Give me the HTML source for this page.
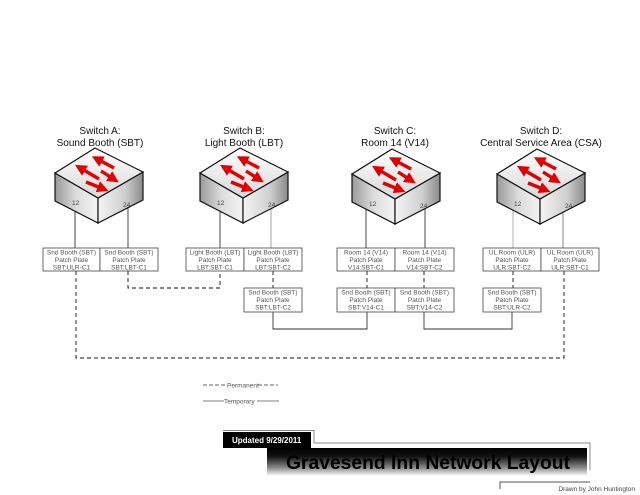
<!DOCTYPE html>
<html><head><meta charset="utf-8"><style>
html,body{margin:0;padding:0;background:#fff;}
svg{display:block;font-family:"Liberation Sans",Arial,sans-serif;}
.bx{fill:#fff;stroke:#444;stroke-width:0.8}
.t{font-size:6.5px;fill:#555;text-anchor:middle}
.h{font-size:10px;fill:#111;text-anchor:middle}
.s{stroke:#333;stroke-width:0.9;fill:none}
.d{stroke:#111;stroke-width:0.9;fill:none;stroke-dasharray:4 3}
.p{font-size:6.5px;fill:#555}
</style></head><body>
<svg width="640" height="495" viewBox="0 0 640 495">
<defs>
<linearGradient id="lf" x1="0" y1="0" x2="1" y2="0"><stop offset="0" stop-color="#9a9a9a"/><stop offset="0.5" stop-color="#dcdcdc"/><stop offset="1" stop-color="#f4f4f4"/></linearGradient>
<linearGradient id="rf" x1="0" y1="0" x2="1" y2="0"><stop offset="0" stop-color="#f4f4f4"/><stop offset="0.6" stop-color="#cfcfcf"/><stop offset="1" stop-color="#8a8a8a"/></linearGradient>
<linearGradient id="tp" x1="0" y1="0" x2="0" y2="1"><stop offset="0" stop-color="#ffffff"/><stop offset="1" stop-color="#d8d8d8"/></linearGradient>
<linearGradient id="bar" x1="0" y1="0" x2="0" y2="1"><stop offset="0" stop-color="#000"/><stop offset="0.3" stop-color="#111"/><stop offset="0.7" stop-color="#888"/><stop offset="1" stop-color="#fff"/></linearGradient>
<marker id="ah" viewBox="0 0 10 10" refX="3" refY="5" markerWidth="3.4" markerHeight="3.4" orient="auto"><path d="M0,0 L10,5 L0,10 z" fill="#e00000"/></marker>
<g id="cube">
<polygon points="0,26 43,51 43,76 0,54" fill="url(#lf)" stroke="#111" stroke-width="1.2"/>
<polygon points="43,51 88,25 88,53 43,76" fill="url(#rf)" stroke="#111" stroke-width="1.2"/>
<polygon points="40,1 0,26 43,51 88,25" fill="url(#tp)" stroke="#111" stroke-width="1.2"/>
<g stroke="#e00000" stroke-width="3.4" fill="none" marker-end="url(#ah)">
<line x1="59" y1="21" x2="44" y2="13"/>
<line x1="44" y1="32" x2="27" y2="22"/>
<line x1="46" y1="24" x2="57" y2="31"/>
<line x1="31" y1="35" x2="46" y2="41"/>
</g>
<text x="17" y="58" font-size="6.5" fill="#444">12</text>
<text x="68" y="60" font-size="6.5" fill="#444">24</text>
</g>
</defs>

<text class="h" x="100" y="134">Switch A:</text><text class="h" x="100" y="146">Sound Booth (SBT)</text>
<text class="h" x="244" y="134">Switch B:</text><text class="h" x="244" y="146">Light Booth (LBT)</text>
<text class="h" x="395" y="134">Switch C:</text><text class="h" x="395" y="146">Room 14 (V14)</text>
<text class="h" x="541" y="134">Switch D:</text><text class="h" x="541" y="146">Central Service Area (CSA)</text>

<g class="s">
<line x1="75" y1="200" x2="75" y2="248"/><line x1="128" y1="207" x2="128" y2="248"/>
<line x1="220" y1="200" x2="220" y2="248"/><line x1="271" y1="207" x2="271" y2="248" stroke="#999"/>
<line x1="366" y1="200" x2="366" y2="248"/><line x1="425" y1="207" x2="425" y2="248"/>
<line x1="513" y1="200" x2="513" y2="248" stroke="#aaa"/><line x1="563" y1="207" x2="563" y2="248" stroke="#777"/>
</g>

<use href="#cube" x="55" y="147"/>
<use href="#cube" x="200" y="147"/>
<use href="#cube" x="352" y="148"/>
<use href="#cube" x="497" y="148"/>

<path class="d" d="M76,271 V358 H564 V271"/>
<path class="d" d="M128,271 V288 H220 V271"/>
<path class="d" d="M273,271 V288"/>
<path class="d" d="M367,271 V288"/>
<path class="d" d="M424,271 V288"/>
<path class="d" d="M513,271 V288"/>
<path class="s" d="M273,312 V329 H367 V312"/>
<path class="s" d="M424,312 V329 H512 V312"/>

<g>
<rect class="bx" x="43" y="248" width="57" height="23"/><rect class="bx" x="100" y="248" width="58" height="23"/>
<rect class="bx" x="186" y="248" width="58" height="23"/><rect class="bx" x="244" y="248" width="58" height="23"/>
<rect class="bx" x="337" y="248" width="58" height="23"/><rect class="bx" x="395" y="248" width="59" height="23"/>
<rect class="bx" x="483" y="248" width="58" height="23"/><rect class="bx" x="541" y="248" width="58" height="23"/>
<rect class="bx" x="244" y="288" width="58" height="24"/>
<rect class="bx" x="337" y="288" width="58" height="24"/><rect class="bx" x="395" y="288" width="59" height="24"/>
<rect class="bx" x="483" y="288" width="58" height="24"/>
</g>
<g class="t">
<text x="71.5" y="254.5">Snd Booth (SBT)</text><text x="71.5" y="262">Patch Plate</text><text x="71.5" y="269.5">SBT:ULR-C1</text>
<text x="129" y="254.5">Snd Booth (SBT)</text><text x="129" y="262">Patch Plate</text><text x="129" y="269.5">SBT:LBT-C1</text>
<text x="215" y="254.5">Light Booth (LBT)</text><text x="215" y="262">Patch Plate</text><text x="215" y="269.5">LBT:SBT-C1</text>
<text x="273" y="254.5">Light Booth (LBT)</text><text x="273" y="262">Patch Plate</text><text x="273" y="269.5">LBT:SBT-C2</text>
<text x="366" y="254.5">Room 14 (V14)</text><text x="366" y="262">Patch Plate</text><text x="366" y="269.5">V14:SBT-C1</text>
<text x="424.5" y="254.5">Room 14 (V14)</text><text x="424.5" y="262">Patch Plate</text><text x="424.5" y="269.5">V14:SBT-C2</text>
<text x="512" y="254.5">UL Room (ULR)</text><text x="512" y="262">Patch Plate</text><text x="512" y="269.5">ULR:SBT-C2</text>
<text x="570" y="254.5">UL Room (ULR)</text><text x="570" y="262">Patch Plate</text><text x="570" y="269.5">ULR:SBT-C1</text>
<text x="273" y="294.5">Snd Booth (SBT)</text><text x="273" y="302">Patch Plate</text><text x="273" y="309.5">SBT:LBT-C2</text>
<text x="366" y="294.5">Snd Booth (SBT)</text><text x="366" y="302">Patch Plate</text><text x="366" y="309.5">SBT:V14-C1</text>
<text x="424.5" y="294.5">Snd Booth (SBT)</text><text x="424.5" y="302">Patch Plate</text><text x="424.5" y="309.5">SBT:V14-C2</text>
<text x="512" y="294.5">Snd Booth (SBT)</text><text x="512" y="302">Patch Plate</text><text x="512" y="309.5">SBT:ULR-C2</text>
</g>

<line x1="203" y1="385" x2="226" y2="385" stroke="#333" stroke-width="0.8" stroke-dasharray="4 2"/>
<text class="p" x="227" y="387.5">Permanent</text>
<line x1="258" y1="385" x2="278" y2="385" stroke="#333" stroke-width="0.8" stroke-dasharray="4 2"/>
<line x1="203" y1="401" x2="224" y2="401" stroke="#555" stroke-width="0.8"/>
<text class="p" x="224" y="403.5">Temporary</text>
<line x1="257" y1="401" x2="279" y2="401" stroke="#555" stroke-width="0.8"/>

<path d="M223,430.5 H314 V443 H590 V470" fill="none" stroke="#888" stroke-width="1"/>
<rect x="223" y="432" width="88" height="16" fill="#000"/>
<text x="232" y="443" font-size="8" font-weight="bold" fill="#fff">Updated 9/29/2011</text>
<rect x="267" y="448" width="320" height="28" fill="url(#bar)"/>
<text x="286" y="469" font-size="19" font-weight="bold" fill="#000" textLength="284" lengthAdjust="spacingAndGlyphs">Gravesend Inn Network Layout</text>
<path d="M500,489 V482 H590" fill="none" stroke="#555" stroke-width="1"/>
<text x="635" y="491" font-size="6.5" fill="#444" text-anchor="end">Drawn by John Huntington</text>
</svg>
</body></html>
